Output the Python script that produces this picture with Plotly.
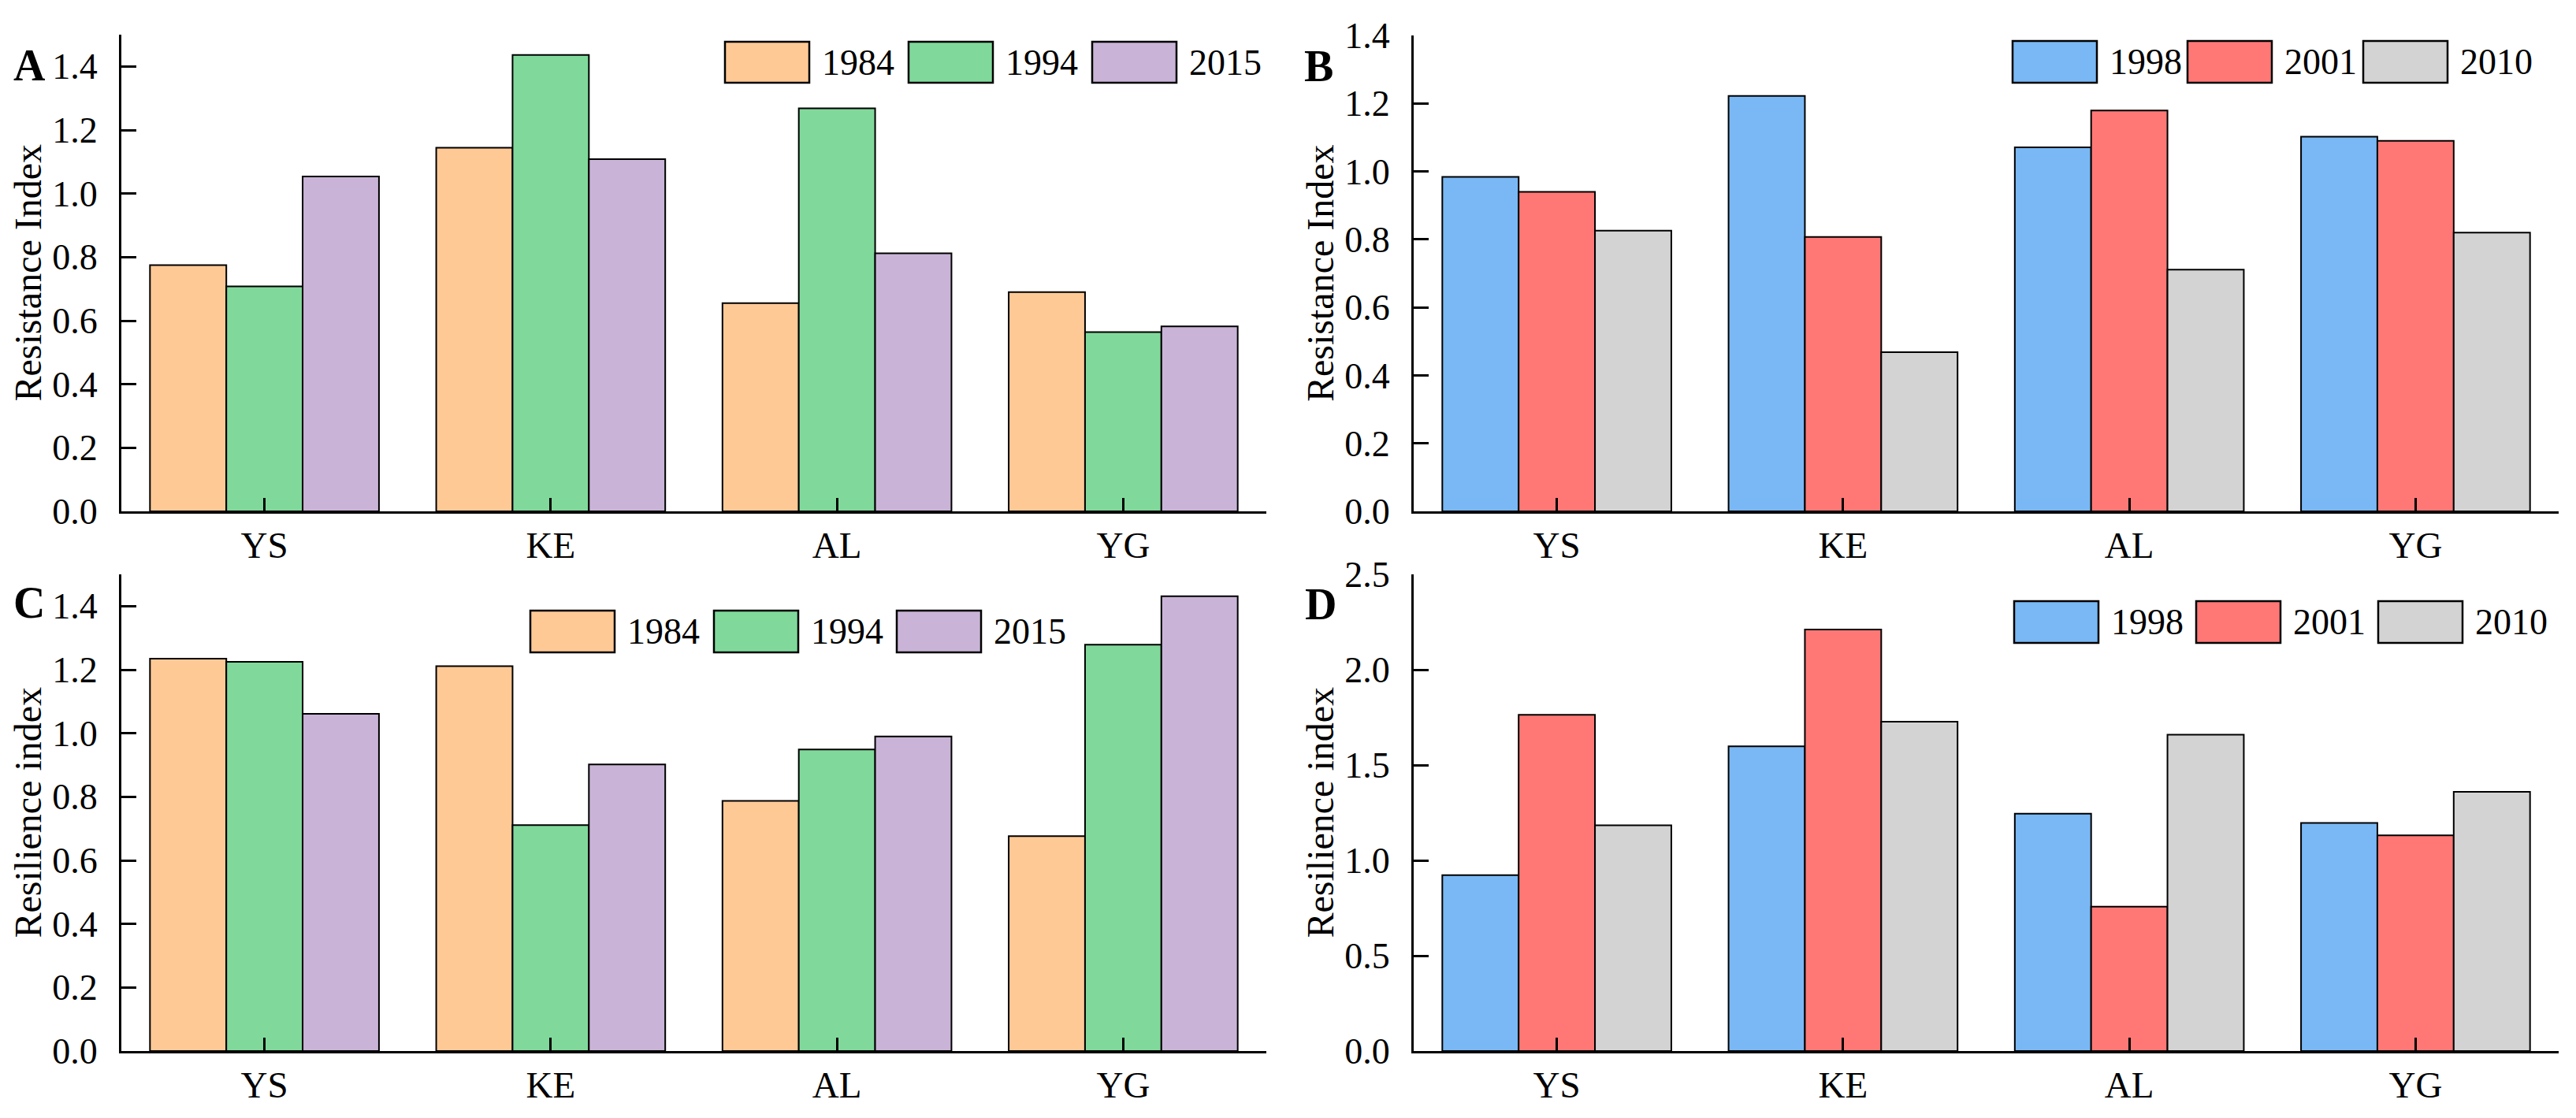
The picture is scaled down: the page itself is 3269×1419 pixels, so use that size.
import plotly.graph_objects as go

W, H = 3269, 1419

categories = ["YS", "KE", "AL", "YG"]

years_ac = ["1984", "1994", "2015"]
years_bd = ["1998", "2001", "2010"]

# Panel A: Resistance index
resist_1984 = [0.775, 1.144, 0.655, 0.690]
resist_1994 = [0.708, 1.436, 1.268, 0.564]
resist_2015 = [1.054, 1.108, 0.812, 0.582]

# Panel B: Resistance index
resist_1998 = [0.984, 1.222, 1.071, 1.102]
resist_2001 = [0.940, 0.807, 1.179, 1.090]
resist_2010 = [0.826, 0.468, 0.711, 0.820]

# Panel C: Resilience index
resil_1984 = [1.235, 1.211, 0.787, 0.676]
resil_1994 = [1.225, 0.711, 0.949, 1.279]
resil_2015 = [1.061, 0.902, 0.990, 1.431]

# Panel D: Resilience index
resil_1998 = [0.923, 1.598, 1.245, 1.196]
resil_2001 = [1.763, 2.211, 0.757, 1.131]
resil_2010 = [1.184, 1.727, 1.659, 1.359]

colors_ac = ["#FFC996", "#80D99B", "#C9B4D7"]
colors_bd = ["#79B8F4", "#FF7876", "#D3D3D3"]

FONT = "Liberation Serif, Times New Roman, Times, serif"
TICK_SIZE = 46
CAT_SIZE = 47


def px2x(px):
    return px / W


def px2y(py):
    return 1 - py / H


panels = [
    dict(key="", series=[resist_1984, resist_1994, resist_2015], names=years_ac, colors=colors_ac,
         xdom=(154, 1607), ydom=(44, 649), yrange=[0, 1.5], dtick=0.2,
         title="Resistance Index", letter="A", letter_pos=(37, 83),
         legend_x=[920, 1153, 1386], legend_y=(53, 105)),
    dict(key="2", series=[resist_1998, resist_2001, resist_2010], names=years_bd, colors=colors_bd,
         xdom=(1794, 3247), ydom=(45, 649), yrange=[0, 1.4], dtick=0.2,
         title="Resistance Index", letter="B", letter_pos=(1673, 84),
         legend_x=[2554, 2776, 2999], legend_y=(52, 105)),
    dict(key="3", series=[resil_1984, resil_1994, resil_2015], names=years_ac, colors=colors_ac,
         xdom=(154, 1607), ydom=(729, 1334), yrange=[0, 1.5], dtick=0.2,
         title="Resilience index", letter="C", letter_pos=(37, 765),
         legend_x=[673, 906, 1138], legend_y=(775, 828)),
    dict(key="4", series=[resil_1998, resil_2001, resil_2010], names=years_bd, colors=colors_bd,
         xdom=(1794, 3247), ydom=(729, 1334), yrange=[0, 2.5], dtick=0.5,
         title="Resilience index", letter="D", letter_pos=(1676, 767),
         legend_x=[2556, 2787, 3018], legend_y=(763, 816)),
]

fig = go.Figure()
shapes = []
annotations = []
layout_axes = {}

for p in panels:
    k = p["key"]
    xa = "x" + k
    ya = "y" + k
    for vals, name, col in zip(p["series"], p["names"], p["colors"]):
        fig.add_trace(go.Bar(
            x=categories, y=vals, name=name, xaxis=xa, yaxis=ya,
            marker=dict(color=col, line=dict(color="black", width=2)),
            showlegend=False,
        ))
    layout_axes["xaxis" + k] = dict(
        domain=[px2x(p["xdom"][0]), px2x(p["xdom"][1])],
        anchor=ya, type="category", range=[-0.5, 3.5],
        showline=True, linecolor="black", linewidth=3,
        ticks="inside", ticklen=17, tickwidth=2.5, tickcolor="black",
        showgrid=False, zeroline=False, automargin=False,
        tickfont=dict(family=FONT, size=CAT_SIZE, color="black"),
        ticklabelstandoff=0,
    )
    layout_axes["yaxis" + k] = dict(
        domain=[px2y(p["ydom"][1]), px2y(p["ydom"][0])],
        anchor=xa, range=p["yrange"], dtick=p["dtick"], tick0=0,
        tickformat=".1f",
        showline=True, linecolor="black", linewidth=3,
        ticks="inside", ticklen=19, tickwidth=3, tickcolor="black",
        showgrid=False, zeroline=False, automargin=False,
        tickfont=dict(family=FONT, size=TICK_SIZE, color="black"),
        ticklabelstandoff=18,
    )
    # axis title
    annotations.append(dict(
        text=p["title"], xref="paper", yref="paper",
        x=px2x(p["xdom"][0] - 119), y=px2y((p["ydom"][0] + p["ydom"][1]) / 2),
        textangle=-90, showarrow=False, xanchor="center", yanchor="middle",
        font=dict(family=FONT, size=48, color="black"),
    ))
    # panel letter
    annotations.append(dict(
        text="<b>" + p["letter"] + "</b>", xref="paper", yref="paper",
        x=px2x(p["letter_pos"][0]), y=px2y(p["letter_pos"][1]),
        showarrow=False, xanchor="center", yanchor="middle",
        font=dict(family=FONT, size=56, color="black"),
    ))
    # legend (swatches + labels)
    sw_w = 107
    y0, y1 = p["legend_y"]
    for lx, name, col in zip(p["legend_x"], p["names"], p["colors"]):
        shapes.append(dict(
            type="rect", xref="paper", yref="paper",
            x0=px2x(lx), x1=px2x(lx + sw_w), y0=px2y(y1), y1=px2y(y0),
            fillcolor=col, line=dict(color="black", width=2.5),
        ))
        annotations.append(dict(
            text=name, xref="paper", yref="paper",
            x=px2x(lx + sw_w + 14), y=px2y((y0 + y1) / 2),
            showarrow=False, xanchor="left", yanchor="middle",
            font=dict(family=FONT, size=46, color="black"),
        ))

fig.update_layout(
    template="none",
    width=W, height=H,
    margin=dict(l=0, r=0, t=0, b=0, pad=0),
    paper_bgcolor="white", plot_bgcolor="white",
    barmode="group", bargap=0.2, bargroupgap=0,
    showlegend=False,
    shapes=shapes, annotations=annotations,
    font=dict(family=FONT, color="black"),
    **layout_axes,
)

fig.write_html("out.html", config={"displayModeBar": False},
               post_script="document.body.style.margin='0px';")
